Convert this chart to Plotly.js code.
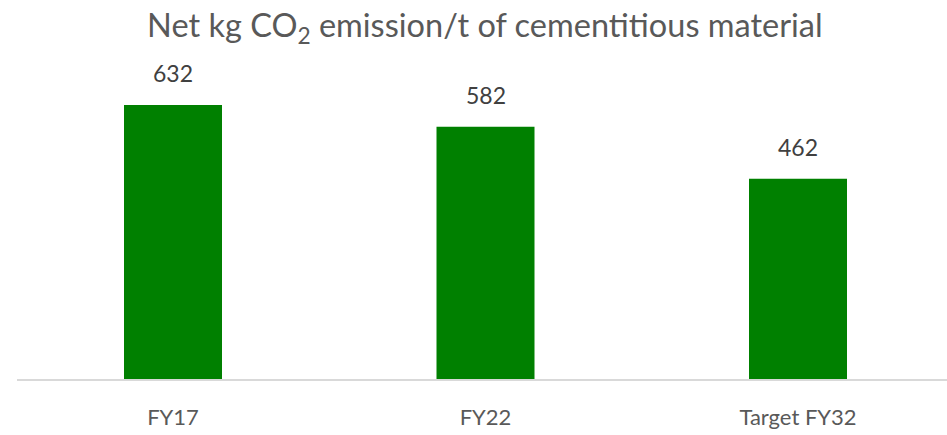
<!DOCTYPE html>
<html><head><meta charset="utf-8">
<script src="https://cdn.plot.ly/plotly-3.0.1.min.js"></script>
<style>html,body{margin:0;padding:0;background:#fff;}#chart{width:947px;height:435px;}</style>
</head><body><div id="chart"></div>
<script>
const categories = ["FY17", "FY22", "Target FY32"];
const values = [632, 582, 462];
const chartTitle = "Net kg CO<sub>2</sub> emission/t of cementitious material";

const font = "Lato, Open Sans, sans-serif";
const trace = {
  type: "bar",
  x: categories,
  y: values,
  width: 0.3136,
  marker: {color: "#008000"},
  hoverinfo: "none"
};
const annotations = categories.map((c, i) => ({
  x: c, y: values[i], xref: "x", yref: "y",
  text: String(values[i]), showarrow: false,
  yanchor: "bottom", yshift: 16,
  font: {family: font, size: 23, color: "#404040"}
}));
const layout = {
  width: 947, height: 435,
  margin: {l: 17, r: 0, t: 60, b: 56},
  paper_bgcolor: "#fff", plot_bgcolor: "#fff",
  showlegend: false,
  title: {text: chartTitle, x: 0.512, xanchor: "center", y: 0.94, yanchor: "middle",
          font: {family: font, size: 32.5, color: "#595959"}},
  xaxis: {type: "category", range: [-0.4992, 2.4768], showgrid: false, zeroline: false,
          showline: true, linecolor: "#d9d9d9", linewidth: 1.5, ticks: "",
          tickfont: {family: font, size: 22, color: "#595959"}, ticklabelstandoff: 18},
  yaxis: {range: [0, 736], visible: false, showgrid: false, zeroline: false},
  annotations: annotations
};
Plotly.newPlot("chart", [trace], layout, {staticPlot: true, displayModeBar: false});
</script></body></html>
